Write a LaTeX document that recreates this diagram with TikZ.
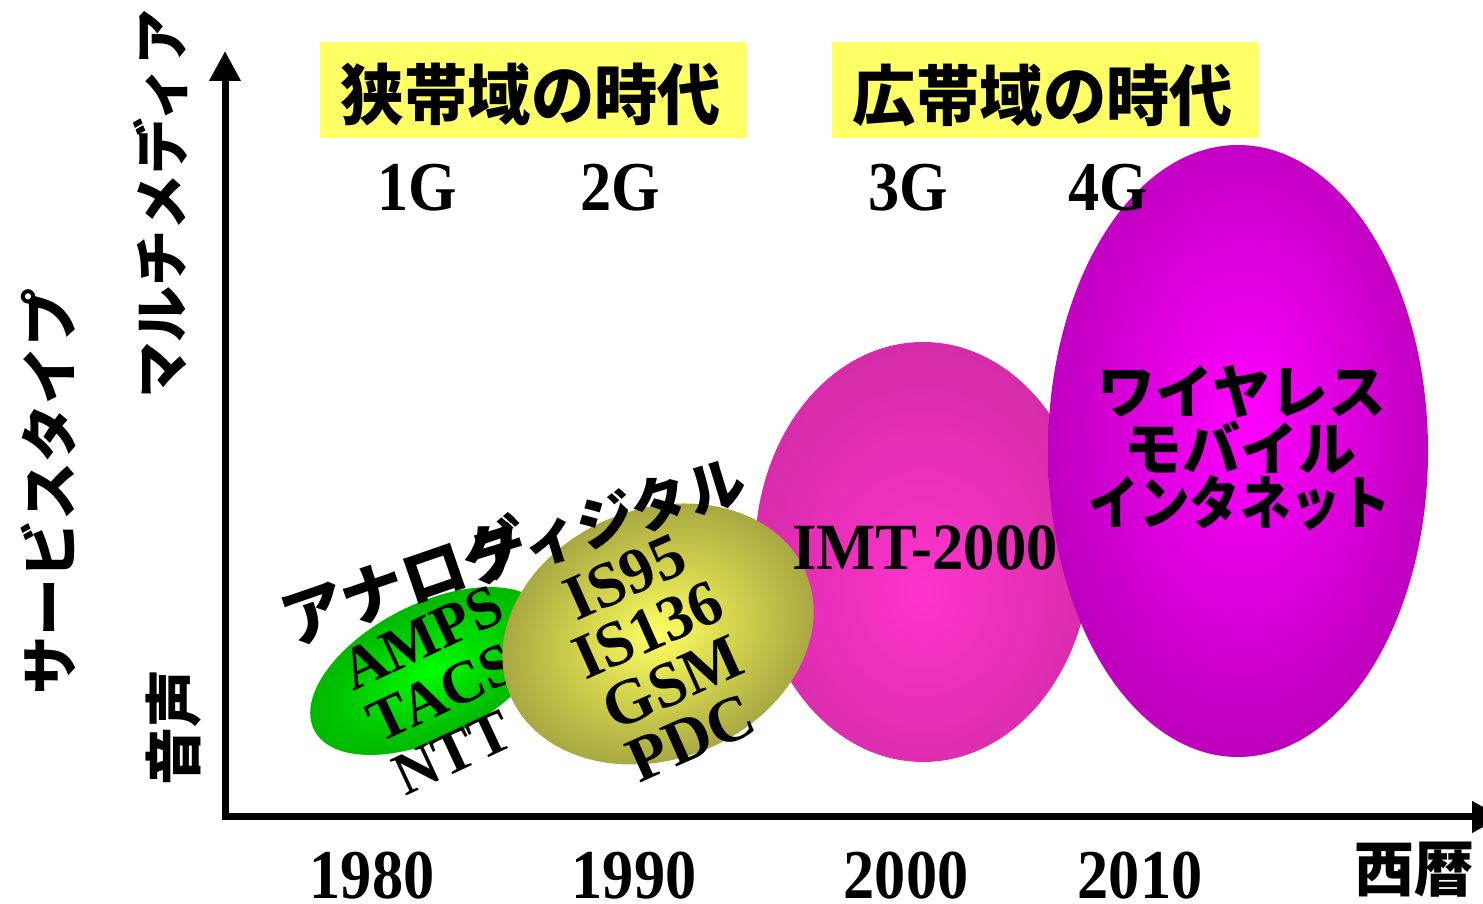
\documentclass[tikz,border=0pt]{standalone}
\usepackage{fontspec}
\setmainfont{Liberation Serif}
\newfontfamily\jp{Noto Sans CJK JP}
\usetikzlibrary{arrows.meta}
\newcommand{\fsz}[1]{\fontsize{#1}{#1}\selectfont}
\definecolor{boxyellow}{RGB}{255,255,102}
\pgfdeclareradialshading{shGreen}{\pgfpoint{0bp}{0bp}}{rgb(0bp)=(0,1,0);rgb(16bp)=(0,0.8,0);rgb(50bp)=(0,0.5,0)}
\pgfdeclareradialshading{shYellow}{\pgfpoint{0bp}{0bp}}{rgb(0bp)=(1,1,0.4);rgb(10bp)=(0.86,0.86,0.32);rgb(25bp)=(0.66,0.66,0.26);rgb(50bp)=(0.55,0.55,0.22)}
\pgfdeclareradialshading{shPink}{\pgfpoint{0bp}{-5bp}}{rgb(0bp)=(1,0.2,0.8);rgb(20bp)=(0.88,0.18,0.7);rgb(50bp)=(0.7,0.15,0.55)}
\pgfdeclareradialshading{shPurple}{\pgfpoint{1bp}{3bp}}{rgb(0bp)=(1,0,1);rgb(15bp)=(0.85,0,0.85);rgb(35bp)=(0.66,0,0.66);rgb(50bp)=(0.6,0,0.6)}
\tikzset{
  lbl/.style={inner sep=0pt, font=\bfseries\fsz{70}, xscale=0.89},
  jhead/.style={inner sep=0pt, font=\jp\bfseries\fsz{66}, xscale=0.96},
  jlbl/.style={inner sep=0pt, font=\jp\bfseries\fsz{58}},
  grn/.style={inner sep=0pt, font=\bfseries\fsz{60}, rotate=25},
  ylw/.style={inner sep=0pt, font=\bfseries\fsz{64}, rotate=24},
  axisline/.style={line width=7pt, {Triangle[length=30pt,width=30pt]}-{Triangle[length=30pt,width=30pt]}},
  hdrbox/.style={fill=boxyellow, inner sep=0pt, minimum width=427pt, minimum height=96pt}
}
\begin{document}
\begin{tikzpicture}[x=1pt,y=1pt]
\useasboundingbox (0,0) rectangle (1483,904);
% axes
\coordinate (ytip) at (225,853);
\coordinate (orig) at (225,87);
\coordinate (xtip) at (1502,87);
\draw[axisline] (ytip) -- (orig) -- (xtip);
% header boxes
\node[hdrbox] (box1) at (533.5,814) {};
\node[hdrbox] (box2) at (1045,814) {};
\node[jhead] (narrow) at (531,809) {狭帯域の時代};
\node[jhead] (broad) at (1043,809) {広帯域の時代};
% generation labels
\node[lbl] (g1) at (417,716.5) {1G};
\node[lbl] (g2) at (620,716.5) {2G};
\node[lbl] (g3) at (908,716.5) {3G};
% ellipses
\shade[shading=shPink] (923,352) ellipse [x radius=168, y radius=210];
\shade[shading=shPurple] (1238,453) ellipse [x radius=190, y radius=306];
\node[lbl] (g4) at (1108,716.5) {4G};
\shade[shading=shGreen, transform canvas={shift={(430,233)},rotate=27}] (0,0) ellipse [x radius=130, y radius=67];
\node[grn] (amps) at (422,266) {AMPS};
\node[grn] (tacs) at (442,211) {TACS};
\node[grn] (ntt) at (453,151) {NTT};
\shade[shading=shYellow, transform canvas={shift={(658,270)},rotate=22}] (0,0) ellipse [x radius=160, y radius=125];
\node[ylw] (is95) at (625,327) {IS95};
\node[ylw] (is136) at (648,274) {IS136};
\node[ylw] (gsm) at (673,221) {GSM};
\node[ylw] (pdc) at (691,166) {PDC};
\node[inner sep=0pt, font=\bfseries\fsz{66}, xscale=0.95] (imt) at (925,356) {IMT-2000};
\node[jlbl] (w1) at (1242,512) {ワイヤレス};
\node[jlbl] (w2) at (1240,457) {モバイル};
\node[jlbl, xscale=0.87] (w3) at (1240,401) {インタネット};
\node[inner sep=0pt, font=\jp\bfseries\fsz{64}, rotate=19] (analog) at (403.5,322.5) {アナログ};
\node[inner sep=0pt, font=\jp\bfseries\fsz{58}, rotate=17] (digital) at (607,385.5) {ディジタル};
% axis labels
\node[jlbl, rotate=90] (stype) at (48,412) {サービスタイプ};
\node[jlbl, font=\jp\bfseries\fsz{56}, rotate=90] (multi) at (161,700) {マルチメディア};
\node[jlbl, rotate=90] (voice) at (174,176) {音声};
\node[jlbl, font=\jp\bfseries\fsz{60}] (seireki) at (1414,34.5) {西暦};
% years
\node[lbl] (y1980) at (372,28) {1980};
\node[lbl] (y1990) at (634,28) {1990};
\node[lbl] (y2000) at (906,28) {2000};
\node[lbl] (y2010) at (1140,28) {2010};
\end{tikzpicture}
\end{document}
